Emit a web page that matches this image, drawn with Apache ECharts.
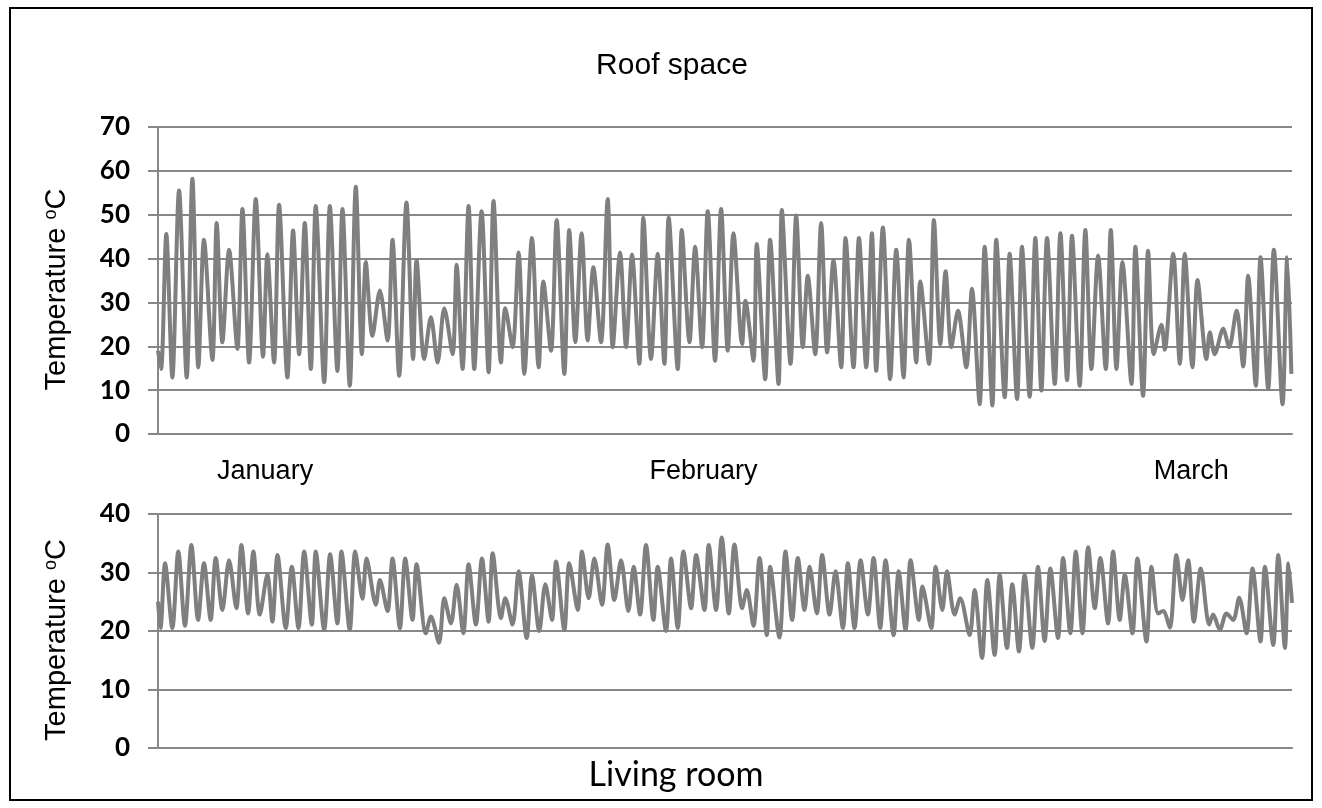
<!DOCTYPE html>
<html>
<head>
<meta charset="utf-8">
<script src="https://cdn.jsdelivr.net/npm/echarts@6/dist/echarts.min.js"></script>
<style>
html,body{margin:0;padding:0;background:#fff;}
#chart{width:1322px;height:808px;}
</style>
</head>
<body>
<div id="chart"></div>
<script>
// ---- data (day offset from start of January, temperature °C) ----
const roofDays = [0, 0.24, 0.66, 1.14, 1.67, 2.28, 2.73, 3.20, 3.65, 4.32,
  4.66, 5.11, 5.64, 6.30, 6.70, 7.23, 7.76, 8.34, 8.68, 9.21,
  9.61, 10.27, 10.72, 11.20, 11.65, 12.13, 12.52, 13.19, 13.64, 14.24,
  14.64, 15.22, 15.70, 16.18, 16.49, 17.02, 17.61, 18.22, 18.61, 19.14,
  19.72, 20.25, 20.52, 21.13, 21.66, 22.19, 22.72, 23.38, 23.70, 24.17,
  24.65, 25.10, 25.68, 26.24, 26.63, 27.22, 27.56, 28.14, 28.62, 29.07,
  29.68, 30.21, 30.58, 31.19, 31.64, 32.25, 32.64, 33.12, 33.62, 34.10,
  34.55, 35.16, 35.69, 36.09, 36.67, 37.15, 37.62, 38.20, 38.52, 39.13,
  39.66, 40.19, 40.53, 41.25, 41.57, 42.18, 42.63, 43.18, 43.63, 44.21,
  44.69, 45.22, 45.67, 46.36, 46.62, 47.26, 47.52, 48.19, 48.58, 49.25,
  49.51, 50.20, 50.65, 51.18, 51.57, 52.16, 52.63, 53.11, 53.61, 54.22,
  54.57, 55.20, 55.63, 56.21, 56.66, 57.00, 57.53, 58.11, 58.59, 59.17,
  59.60, 60.18, 60.50, 61.19, 61.58, 62.09, 62.51, 62.96, 63.49, 64.15,
  64.60, 65.21, 65.61, 66.22, 66.53, 67.20, 67.59, 68.18, 68.57, 69.18,
  69.63, 70.11, 70.56, 71.17, 71.62, 72.15, 72.54, 73.15, 73.60, 74.08,
  74.61, 75.22, 75.62, 76.07, 76.54, 77.26, 77.57, 78.18, 78.58, 79.03,
  79.64, 79.90, 80.57, 81.10, 81.49, 82.10, 82.50, 83.21, 83.48, 83.87,
  84.54, 85.01, 85.60, 86.13, 86.52, 87.13, 87.50, 88.11, 88.56, 89.25,
  89.62, 89.95];
const roofTemps = [19, 14.8, 45.6, 12.9, 55.5, 12.9, 58.2, 15.2, 44.3, 16.9,
  48.1, 20.9, 42, 19.4, 51.3, 16.3, 53.6, 17.6, 41, 16.3,
  52.3, 12.9, 46.4, 18.2, 48.1, 14.8, 52, 11.8, 52, 14.4,
  51.3, 11, 56.4, 18.2, 39.2, 22.4, 32.7, 21.3, 44.3, 13.3,
  52.8, 17.1, 39.7, 17.1, 26.6, 16.3, 28.7, 18.2, 38.6, 14.8,
  52, 14.8, 50.8, 14.1, 53.1, 16.3, 28.7, 19.8, 41.4, 13.7,
  44.7, 15.2, 34.8, 19, 48.8, 13.7, 46.5, 20.9, 45.8, 21.3,
  38, 20.9, 53.6, 19.8, 41.4, 19.8, 40.9, 16, 49.3, 17.1,
  41.1, 16, 49.3, 14.8, 46.5, 20.9, 42.7, 19.8, 50.8, 16.7,
  51.3, 19, 45.8, 20.5, 30.4, 16.7, 43.3, 12.5, 44.3, 11.4,
  51.1, 16, 49.8, 19.8, 36.1, 18.2, 48.1, 18.6, 39.7, 15.2,
  44.7, 15.2, 44.7, 15.2, 45.8, 14.4, 47.1, 12.5, 42, 12.9,
  44.3, 16.3, 34.8, 16, 48.8, 20.5, 37.1, 19.8, 28.1, 15.2,
  33.1, 6.8, 42.7, 6.5, 44.3, 8.4, 41.1, 8, 42.7, 8.5,
  44.7, 9.9, 44.7, 11.4, 45.8, 12.3, 45.2, 11, 46.5, 14.8,
  40.7, 14.8, 46.5, 14.8, 39.2, 11.4, 42.7, 8.7, 41.8, 18.2,
  24.9, 19.2, 41.1, 16, 41.1, 15.2, 35.1, 17.1, 23.2, 18.2,
  24, 19.8, 28.1, 15.4, 36.1, 11, 40.3, 10.3, 42, 6.8,
  40.3, 13.7];

const livingDays = [0, 0.2, 0.56, 1.14, 1.61, 2.14, 2.65, 3.18, 3.65, 4.18,
  4.58, 5.11, 5.64, 6.22, 6.62, 7.15, 7.57, 8.08, 8.68, 9.08,
  9.48, 10.14, 10.62, 11.15, 11.60, 12.21, 12.52, 13.19, 13.66, 14.24,
  14.56, 15.22, 15.65, 16.23, 16.55, 17.29, 17.61, 18.22, 18.61, 19.20,
  19.62, 20.20, 20.52, 21.26, 21.66, 22.30, 22.72, 23.25, 23.70, 24.23,
  24.65, 25.23, 25.71, 26.24, 26.56, 27.22, 27.56, 28.14, 28.62, 29.26,
  29.68, 30.26, 30.74, 31.27, 31.59, 32.25, 32.64, 33.31, 33.65, 34.18,
  34.63, 35.24, 35.69, 36.22, 36.75, 37.33, 37.75, 38.26, 38.73, 39.32,
  39.66, 40.32, 40.72, 41.25, 41.70, 42.31, 42.71, 43.37, 43.71, 44.29,
  44.74, 45.30, 45.75, 46.36, 46.73, 47.26, 47.74, 48.32, 48.58, 49.32,
  49.80, 50.33, 50.78, 51.31, 51.71, 52.29, 52.71, 53.30, 53.77, 54.36,
  54.75, 55.28, 55.76, 56.34, 56.79, 57.32, 57.74, 58.38, 58.78, 59.33,
  59.73, 60.39, 60.66, 61.37, 61.72, 62.25, 62.62, 63.22, 63.67, 64.42,
  64.81, 65.40, 65.82, 66.40, 66.80, 67.38, 67.80, 68.33, 68.78, 69.39,
  69.84, 70.37, 70.82, 71.43, 71.83, 72.41, 72.84, 73.37, 73.82, 74.35,
  74.79, 75.40, 75.80, 76.33, 76.73, 77.34, 77.73, 78.45, 78.85, 79.37,
  79.77, 80.30, 80.83, 81.31, 81.76, 82.21, 82.76, 83.43, 83.74, 84.27,
  84.80, 85.33, 85.81, 86.39, 86.87, 87.50, 87.85, 88.51, 88.91, 89.44,
  89.72, 90];
const livingTemps = [25.0, 20.5, 31.6, 20.5, 33.6, 20.9, 34.7, 21.9, 31.6, 21.9,
  32.5, 23.6, 32.1, 23.9, 34.7, 23.0, 33.6, 22.8, 29.6, 21.6,
  33.0, 20.5, 31.0, 20.5, 33.6, 21.1, 33.6, 20.2, 33.1, 21.3,
  33.6, 20.2, 33.6, 25.5, 32.4, 24.5, 28.7, 23.4, 32.4, 20.5,
  32.4, 21.9, 31.4, 19.6, 22.5, 18.0, 25.6, 21.3, 27.9, 19.6,
  31.4, 21.1, 32.4, 21.6, 33.3, 22.2, 25.6, 21.1, 30.2, 18.8,
  29.5, 20.0, 28.0, 21.9, 31.9, 20.2, 31.6, 23.6, 33.6, 25.6,
  32.4, 24.5, 34.8, 25.3, 32.1, 23.4, 31.0, 22.8, 34.7, 21.9,
  31.0, 20.0, 32.4, 20.5, 33.6, 23.9, 33.0, 23.6, 34.7, 23.6,
  36.0, 23.0, 34.8, 23.9, 27.0, 20.9, 32.5, 19.3, 31.0, 18.9,
  33.6, 21.9, 32.5, 23.6, 31.0, 23.0, 33.0, 22.8, 30.2, 20.5,
  31.6, 20.5, 32.1, 22.8, 32.5, 20.5, 32.1, 19.3, 30.2, 20.2,
  32.1, 21.9, 27.6, 20.5, 31.0, 23.6, 30.2, 22.8, 25.6, 19.3,
  27.0, 15.4, 28.7, 15.9, 29.6, 17.1, 28.0, 16.5, 29.6, 17.1,
  31.0, 18.3, 30.7, 18.8, 32.5, 19.6, 33.6, 19.6, 34.3, 23.9,
  32.5, 21.3, 33.6, 21.9, 29.6, 19.6, 32.4, 18.2, 31.0, 23.0,
  23.4, 20.6, 33.0, 25.3, 32.1, 21.6, 30.7, 21.1, 22.8, 20.2,
  23.0, 21.9, 25.7, 19.6, 30.7, 18.2, 31.0, 17.6, 33.0, 17.1,
  31.6, 24.8];

const monthNames = ['January', 'February', 'March'];
const monthPos = [8.5, 43.3, 82.0];
const roofTicks = [0, 70, 10];     // min, max, interval
const livingTicks = [0, 40, 10];   // min, max, interval
const dayRange = [0, 90];

// ---- chart ----
const GRID = '#878787';
const LINE = '#7f7f7f';
const chart = echarts.init(document.getElementById('chart'), null, {renderer: 'canvas'});

function yAxisFor(gridIndex, ticks) {
  return {
    gridIndex: gridIndex, type: 'value',
    min: ticks[0], max: ticks[1], interval: ticks[2],
    axisLine: {show: true, lineStyle: {color: GRID, width: 2}},
    axisTick: {show: true, inside: false, length: 10, lineStyle: {color: GRID, width: 2}},
    splitLine: {show: true, lineStyle: {color: GRID, width: 2}},
    axisLabel: {margin: 28, fontFamily: 'Lato', fontSize: 26, fontWeight: 'bold', color: '#000'},
    name: '{a|Temperature }{b|o}{a|C}',
    nameLocation: 'middle', nameRotate: 90, nameGap: 87,
    nameTextStyle: {
      padding: [0, 18, 0, 0],
      rich: {
        a: {fontFamily: 'Liberation Sans', fontSize: 29, color: '#000'},
        b: {fontFamily: 'Liberation Sans', fontSize: 18, color: '#000', verticalAlign: 'top'}
      }
    }
  };
}

const option = {
  animation: false,
  backgroundColor: '#ffffff',
  title: [
    {text: 'Roof space', left: 672, top: 51, textAlign: 'center', padding: 0,
     textStyle: {fontFamily: 'Liberation Sans', fontSize: 30, fontWeight: 'normal', color: '#000'}},
    {text: 'Living room', left: 676, top: 758, textAlign: 'center', padding: 0,
     textStyle: {fontFamily: 'Lato', fontSize: 34, fontWeight: 'normal', color: '#000'}}
  ],
  grid: [
    {left: 158, right: 30, top: 127, height: 307},
    {left: 158, right: 30, top: 514, height: 234}
  ],
  xAxis: [
    {gridIndex: 0, type: 'value', min: dayRange[0], max: dayRange[1],
     axisLine: {show: true, lineStyle: {color: GRID, width: 2}},
     axisTick: {show: false}, splitLine: {show: false},
     axisLabel: {
       customValues: monthPos,
       formatter: function (v) { const i = monthPos.indexOf(v); return i >= 0 ? monthNames[i] : ''; },
       margin: 24, fontFamily: 'Liberation Sans', fontSize: 27, color: '#000'
     }},
    {gridIndex: 1, type: 'value', min: dayRange[0], max: dayRange[1],
     axisLine: {show: true, lineStyle: {color: GRID, width: 2}},
     axisTick: {show: false}, splitLine: {show: false}, axisLabel: {show: false}}
  ],
  yAxis: [yAxisFor(0, roofTicks), yAxisFor(1, livingTicks)],
  series: [
    {type: 'line', xAxisIndex: 0, yAxisIndex: 0, showSymbol: false, smooth: 0.3,
     lineStyle: {color: LINE, width: 4}, itemStyle: {color: LINE},
     data: roofDays.map(function (d, i) { return [d, roofTemps[i]]; })},
    {type: 'line', xAxisIndex: 1, yAxisIndex: 1, showSymbol: false, smooth: 0.3,
     lineStyle: {color: LINE, width: 4}, itemStyle: {color: LINE},
     data: livingDays.map(function (d, i) { return [d, livingTemps[i]]; })}
  ],
  graphic: [
    {type: 'rect', silent: true, z: 100,
     shape: {x: 10, y: 8, width: 1302, height: 792},
     style: {fill: null, stroke: '#000', lineWidth: 2}}
  ]
};
chart.setOption(option);
</script>
</body>
</html>
